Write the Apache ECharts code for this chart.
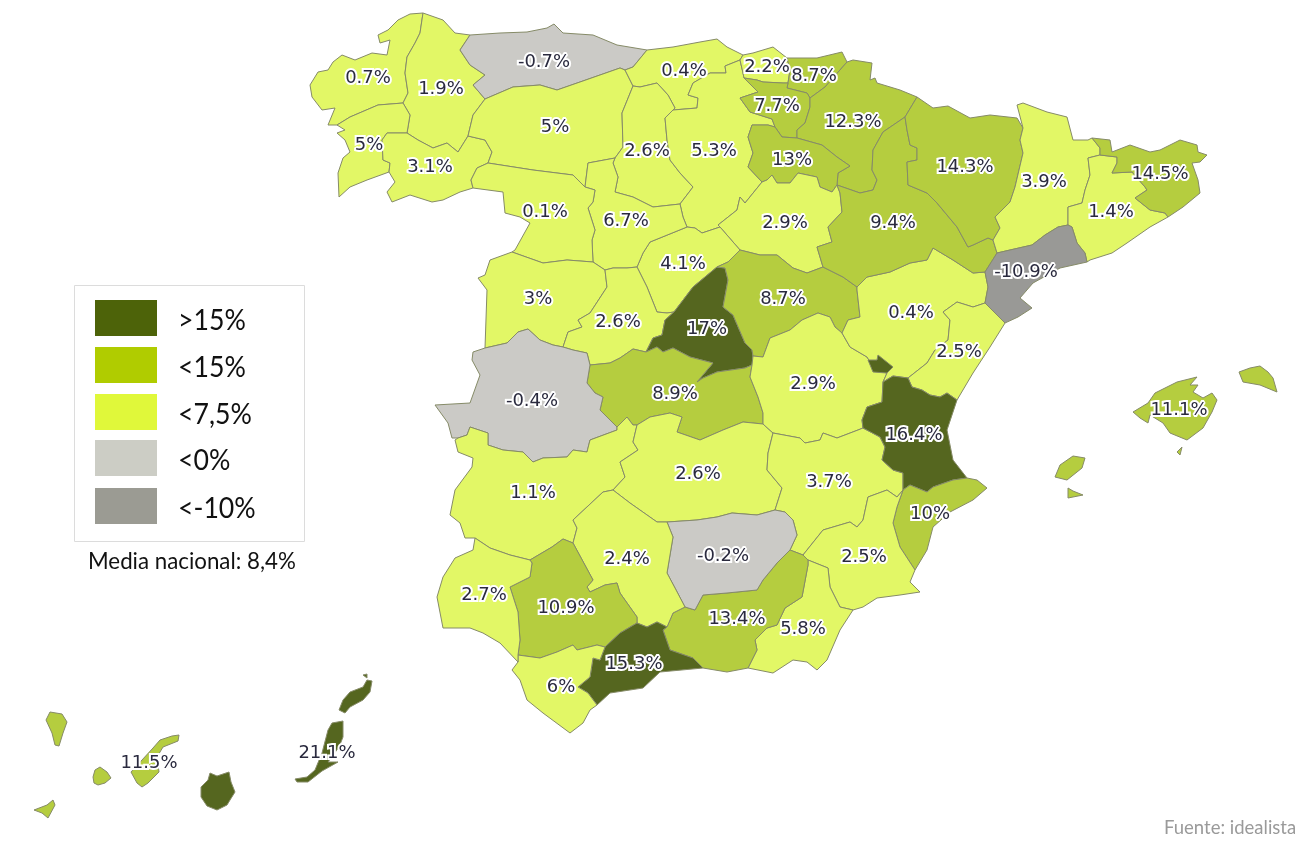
<!DOCTYPE html>
<html><head><meta charset="utf-8">
<style>html,body{margin:0;padding:0;background:#fff}#c{width:1305px;height:844px}</style>
<script src="https://cdn.jsdelivr.net/npm/echarts@6/dist/echarts.min.js"></script>
</head><body><div id="c"></div>
<script>
// --- data ---
const provinces = ["A Coruña","Lugo","Pontevedra","Ourense","Asturias","León","Cantabria","Palencia","Burgos","Bizkaia","Gipuzkoa","Álava","Navarra","La Rioja","Soria","Segovia","Valladolid","Zamora","Salamanca","Ávila","Guadalajara","Toledo","Madrid","Cáceres","Badajoz","Ciudad Real","Cuenca","Albacete","Teruel","Zaragoza","Huesca","Lleida","Barcelona","Girona","Tarragona","Castellón","Valencia","Alicante","Murcia","Almería","Granada","Jaén","Córdoba","Sevilla","Málaga","Cádiz","Huelva","Baleares","Las Palmas","Santa Cruz de Tenerife"];
const values = [0.7,1.9,5,3.1,-0.7,5,0.4,2.6,5.3,2.2,8.7,7.7,12.3,13,2.9,4.1,6.7,0.1,3,2.6,8.7,8.9,17,-0.4,1.1,2.6,2.9,3.7,0.4,9.4,14.3,3.9,1.4,14.5,-10.9,2.5,16.4,10,2.5,5.8,13.4,-0.2,2.4,10.9,15.3,6,2.7,11.1,21.1,11.5];
const legendLabels = [">15%","<15%","<7,5%","<0%","<-10%"];
const legendColors = ["#4d6309","#b0cc00","#e0f83a","#cccdc5","#9b9b93"];
const mapColors = ["#55661f","#b5cd3f","#e2f766","#cbcac6","#999996"];
const thresholds = [15,7.5,0,-10];
const note = "Media nacional: 8,4%";
const source = "Fuente: idealista";

// --- map outline: shared province borders ---
const ARCS = {
lco_sea:"423,13 410,14 398,20 388,30 378,35 380,43 390,40 387,55 372,53 355,60 342,55 333,62 328,70 318,72 310,85 312,97 322,110 335,108 328,125 337,125",
lco_pon:"337,125 350,117 378,105 403,103",
lco_lug:"423,13 420,33 415,43 407,57 405,73 408,93 403,103",
lug_pon:"403,103 410,115 407,133",
pon_our:"407,133 387,133 382,140 383,160 390,163 389,172",
pon_sea:"337,125 345,130 337,133 345,140 350,152 343,158 338,173 339,197 350,187 367,180 389,172",
our_sea:"389,172 395,182 387,192 392,202 410,195 432,202 443,200 460,192 473,188",
our_zam:"473,188 471,180 477,168 488,163",
our_leo:"488,163 492,152 485,140 468,136",
our_lug:"468,136 458,152 447,143 433,148 418,140 407,133",
lug_sea:"423,13 443,20 455,33 470,35",
lug_ast:"470,35 460,50 470,65 485,75 473,85 485,99",
lug_leo:"485,99 473,115 468,136",
ast_sea:"470,35 500,33 527,32 547,28 554,24 563,33 593,35 617,45 647,50",
ast_leo:"485,99 513,87 540,85 557,90 580,82 620,68 625,70",
ast_can:"625,70 633,67 647,50",
can_sea:"647,50 673,47 700,42 717,39 727,47 743,55",
can_leo:"625,70 633,86",
can_pal:"633,86 640,87 657,83 668,95 675,108 665,118",
can_bur:"665,118 673,110 697,108 698,98 688,95 693,83 710,73 726,73 725,66 740,60",
can_biz:"740,60 743,55",
biz_sea:"743,55 753,53 773,47 787,58",
biz_gip:"787,58 790,70 788,83",
biz_ala:"788,83 783,83 763,82 757,80 744,78",
biz_bur:"744,78 743,73 740,60",
gip_sea:"787,58 817,58 842,52 847,62",
gip_nav:"847,62 825,87 810,98",
gip_ala:"788,83 787,88 807,93 810,98",
ala_nav:"810,98 810,107 805,123 797,130 797,138",
ala_rio:"797,138 782,137 775,127",
ala_bur:"775,127 772,119 750,112 740,98 758,92 744,78",
bur_rio:"775,127 768,125 752,125 748,137 753,153 748,167 762,182",
bur_sor:"762,182 745,203 740,197 737,210 718,225 720,227",
bur_seg:"720,227 702,233 695,228 687,227",
bur_val:"687,227 683,217 680,204",
bur_pal:"680,204 693,187 680,173 670,160 667,140 665,118",
pal_leo:"633,86 622,113 623,147 615,158",
pal_val:"615,158 613,163 618,177 615,192 633,197 653,207 680,204",
leo_val:"615,158 588,163 585,187",
leo_zam:"488,163 533,170 573,175 585,187",
zam_val:"585,187 595,190 593,202 588,208 595,230 592,240 593,262",
zam_sea:"473,188 503,192 505,213 520,217 530,223 515,250 512,252",
zam_sal:"512,252 543,263 567,260 593,262",
val_sal:"593,262 605,270",
val_avi:"605,270 613,268 627,268 637,267",
val_seg:"637,267 643,253 650,242 687,227",
sal_avi:"605,270 607,287 590,313 578,320 582,327 568,332 563,347",
sal_sea:"512,252 490,260 485,275 478,278 487,290 485,348",
sal_cac:"485,348 507,343 518,332 528,329 540,340 553,345 563,347",
avi_cac:"563,347 573,350 587,353 590,365",
avi_tol:"590,365 610,363 620,358 633,349 646,352",
avi_mad:"646,352 653,338 662,335 665,320 674,312",
avi_seg:"637,267 647,287 657,312 667,313 674,312",
seg_mad:"674,312 693,287 717,267",
seg_gua:"717,267 728,262 740,250",
seg_sor:"740,250 720,227",
sor_gua:"740,250 760,255 777,255 793,268 807,273 823,267",
sor_zar:"823,267 817,247 832,242 828,227 842,212 840,193 837,185",
sor_rio:"837,185 832,192 820,187 817,177 798,173 790,183 777,183 772,175 767,180 762,182",
rio_nav:"797,138 822,145 837,157 850,166 838,173 837,185",
nav_zar:"837,185 860,193 873,190 877,180 872,170 873,150 883,132 905,117",
nav_hue:"905,117 917,97",
nav_sea:"917,97 900,90 877,83 875,78 870,80 872,63 853,60 847,62",
hue_sea:"917,97 933,108 948,106 970,118 990,115 1017,118 1023,128",
hue_lle:"1023,128 1020,140 1023,153 1015,187 1010,202 995,217 1000,228 993,240",
hue_zar:"905,117 907,130 910,145 917,148 917,160 907,162 908,185 927,193 937,203 957,227 968,247 973,245 988,238 993,240",
zar_lle:"993,240 997,253",
zar_tar:"997,253 985,272",
zar_ter:"985,272 973,273 953,260 933,248 927,260 910,263 890,272 867,277 857,287",
zar_gua:"823,267 843,277 857,287",
gua_ter:"857,287 857,290 860,317 848,320 842,333",
gua_cue:"842,333 835,327 830,317 818,313 802,320 790,330 770,338 763,357 753,356",
gua_mad:"717,267 725,268 728,280 723,307 733,315 745,343 752,350 753,356",
mad_cue:"753,356 752,365",
mad_tol:"646,352 657,347 663,352 673,348 690,357 713,363 697,382 703,378 717,372 745,368 752,365",
tol_cue:"752,365 750,377 758,397 763,413 763,424",
tol_cre:"763,424 743,422 723,430 700,440 677,432 682,417 670,413 650,417 637,425",
tol_bad:"637,425 633,425 627,417 617,427",
tol_cac:"590,365 587,383 595,393 603,397 600,410 617,427",
cac_bad:"617,427 617,430 590,440 587,452 573,450 567,457 543,458 533,462 523,452 503,450 488,445 488,433 470,427 467,435 458,438",
cac_sea:"458,438 452,438 448,423 435,405 470,403 480,375 472,360 473,352 485,348",
bad_sea:"458,438 455,440 458,452 473,458 472,467 455,490 450,515 460,523 465,538 475,538",
bad_cre:"637,425 633,442 638,450 620,462 625,477 613,490",
bad_hlv:"475,538 490,548 510,555 530,560",
bad_sev:"530,560 552,547 563,539 573,543",
bad_cdb:"573,543 577,528 573,520 603,492 613,490",
cdb_cre:"613,490 630,503 657,522 667,522",
cdb_jae:"667,522 673,537 667,573 675,588 685,607",
cdb_gra:"685,607 673,613 667,627",
cdb_mal:"667,627 657,622 647,627 637,623",
cdb_sev:"637,623 637,617 620,593 617,583 605,585 590,592 587,587 593,580 573,543",
sev_mal:"637,623 620,633 605,647",
sev_cad:"605,647 597,645 577,650 573,645 557,652 540,658 518,655",
sev_hlv:"518,655 520,640 518,612 510,587 530,577 532,563 530,560",
hlv_sea:"475,538 473,550 455,558 443,577 437,597 443,628 470,628 483,633 500,643 518,662",
hlv_cad:"518,655 518,662",
cad_sea:"518,662 512,670 520,680 527,700 543,713 570,733 583,723 590,710 597,705",
cad_mal:"597,705 588,693 578,687 590,677 593,658 600,660 605,647",
mal_sea:"597,705 610,693 643,688 660,672 703,668",
mal_gra:"703,668 693,658 670,650 663,630 667,627",
gra_jae:"685,607 695,610 703,595 727,593 757,590 763,580 777,563 790,550",
gra_alb:"790,550 803,555",
gra_mur:"803,555 808,560",
gra_alm:"808,560 808,565 802,597 785,608 777,625 767,628 755,640 757,650 748,668",
gra_sea:"703,668 727,672 748,668",
alm_sea:"748,668 773,673 793,660 807,662 817,670 827,660 840,630 853,610",
alm_mur:"853,610 840,607 830,587 828,568 808,560",
mur_alb:"803,555 823,530 850,522 857,527 863,520 868,497 887,490 897,497 903,490",
mur_ali:"903,490 897,507 893,523 900,547 915,570",
mur_sea:"915,570 910,582 920,592 900,595 877,598 863,607 853,610",
ali_sea:"915,570 927,550 933,527 950,512 973,500 987,488 977,480 967,478",
ali_vlc:"967,478 953,480 933,487 927,492 910,485 903,490",
vlc_sea:"967,478 953,460 947,430 957,400",
vlc_cas:"957,400 947,393 940,397 930,395 922,390 912,387 908,378",
vlc_ter:"908,378 893,376 883,382",
vlc_cue:"883,382 882,402 867,407 862,420 863,428",
vlc_alb:"863,428 880,437 885,447 882,460 893,470 903,473 903,490",
ter_cue:"842,333 850,347 867,357 875,370 887,373 883,382",
ter_cas:"908,378 927,363 935,350 948,340 950,320 943,312 957,302 973,307 985,303",
ter_tar:"985,303 988,287 985,272",
cas_tar:"985,303 1005,323",
cas_sea:"1005,323 990,347 973,373 957,400",
tar_sea:"1005,323 1018,317 1032,308 1020,298 1033,283 1060,268 1087,262",
tar_bar:"1087,262 1085,253 1077,243 1072,227 1068,225",
tar_lle:"1068,225 1058,227 1045,235 1032,245 1010,250 997,253",
lle_bar:"1068,225 1068,207 1082,203 1085,190 1090,175 1088,158 1100,155",
lle_gir:"1100,155 1100,148 1092,138",
lle_sea:"1023,128 1017,105 1023,103 1047,112 1067,117 1073,140 1088,140 1092,138",
bar_gir:"1100,155 1117,157 1117,163 1112,173 1132,172 1145,187 1147,190 1135,198 1150,210 1165,213 1168,217",
bar_sea:"1168,217 1150,227 1127,243 1112,253 1090,260 1087,262",
gir_sea:"1092,138 1110,140 1112,152 1130,145 1150,152 1160,150 1180,140 1197,145 1198,152 1207,155 1200,162 1192,163 1198,180 1200,193 1183,207 1168,217",
cre_cue:"763,424 773,433",
alb_cue:"773,433 800,438 805,443 820,440 823,433 837,438 858,430 863,428",
cre_alb:"773,433 768,453 767,470 782,488 775,510",
cre_jae:"667,522 697,520 717,517 732,513 757,515 775,510",
alb_jae:"775,510 785,512 793,520 797,535 790,550",
ademuz:"868,360 877,360 878,355 893,367 887,373 873,372 868,360",
mallorca:"1133,412 1148,403 1155,393 1177,382 1197,377 1190,385 1198,385 1193,392 1203,398 1212,393 1217,400 1212,412 1203,428 1187,440 1170,433 1163,423 1150,415 1148,423 1140,418 1133,412",
menorca:"1239,372 1250,368 1260,366 1268,372 1273,378 1277,392 1260,385 1243,382 1239,372",
ibiza:"1055,477 1060,465 1073,456 1085,458 1082,468 1067,480 1055,477",
formentera:"1068,488 1073,491 1083,495 1068,498 1068,488",
cabrera:"1177,452 1182,447 1180,455 1177,452",
lapalma:"46,720 50,712 62,714 67,722 63,733 59,746 55,745 52,733 46,720",
gomera:"93,777 95,770 100,767 107,772 111,778 105,783 98,785 94,783 93,777",
hierro:"34,810 47,805 53,800 55,805 48,818 42,813 34,810",
tenerife:"179,735 178,741 163,747 157,757 159,772 148,783 142,787 137,783 131,772 142,760 153,748 160,740 172,736 179,735",
grancanaria:"210,773 217,776 229,772 231,782 235,792 230,800 227,805 217,810 207,806 201,797 201,787 208,780 210,773",
fuerteventura:"295,779 307,777 315,770 322,753 328,730 332,723 343,721 343,737 339,747 328,762 338,762 322,771 308,782 297,782 295,779",
lanzarote:"339,710 343,700 350,692 363,687 367,680 372,681 370,692 363,700 350,707 345,713 339,710",
graciosa:"363,675 367,674 367,678 363,675"
};
const RINGS = {
"A Coruña":[["lco_lug","lco_pon","lco_sea"]],
"Lugo":[["lug_sea","lug_ast","lug_leo","our_lug","lug_pon","lco_lug"]],
"Pontevedra":[["lco_pon","lug_pon","pon_our","pon_sea"]],
"Ourense":[["pon_our","our_lug","our_leo","our_zam","our_sea"]],
"Asturias":[["ast_sea","ast_can","ast_leo","lug_ast"]],
"León":[["ast_leo","can_leo","pal_leo","leo_val","leo_zam","our_leo","lug_leo"]],
"Cantabria":[["can_sea","can_biz","can_bur","can_pal","can_leo","ast_can"]],
"Palencia":[["can_pal","bur_pal","pal_val","pal_leo"]],
"Burgos":[["can_bur","biz_bur","ala_bur","bur_rio","bur_sor","bur_seg","bur_val","bur_pal"]],
"Bizkaia":[["can_biz","biz_sea","biz_gip","biz_ala","biz_bur"]],
"Gipuzkoa":[["biz_gip","gip_sea","gip_nav","gip_ala"]],
"Álava":[["biz_ala","ala_bur","ala_rio","ala_nav","gip_ala"]],
"Navarra":[["nav_sea","gip_nav","ala_nav","rio_nav","nav_zar","nav_hue"]],
"La Rioja":[["bur_rio","sor_rio","rio_nav","ala_rio"]],
"Soria":[["bur_sor","seg_sor","sor_gua","sor_zar","sor_rio"]],
"Segovia":[["val_seg","bur_seg","seg_sor","seg_gua","seg_mad","avi_seg"]],
"Valladolid":[["leo_val","zam_val","val_sal","val_avi","val_seg","bur_val","pal_val"]],
"Zamora":[["our_zam","leo_zam","zam_val","zam_sal","zam_sea"]],
"Salamanca":[["zam_sal","val_sal","sal_avi","sal_cac","sal_sea"]],
"Ávila":[["val_avi","avi_seg","avi_mad","avi_tol","avi_cac","sal_avi"]],
"Madrid":[["seg_mad","gua_mad","mad_cue","mad_tol","avi_mad"]],
"Guadalajara":[["seg_gua","sor_gua","zar_gua","gua_ter","gua_cue","gua_mad"]],
"Toledo":[["avi_tol","mad_tol","tol_cue","tol_cre","tol_bad","tol_cac"]],
"Cáceres":[["sal_cac","avi_cac","tol_cac","cac_bad","cac_sea"]],
"Badajoz":[["cac_bad","bad_sea","bad_hlv","bad_sev","bad_cdb","bad_cre","tol_bad"]],
"Ciudad Real":[["tol_cre","bad_cre","cdb_cre","cre_jae","cre_alb","cre_cue"]],
"Cuenca":[["gua_cue","mad_cue","tol_cue","cre_cue","alb_cue","vlc_cue","ter_cue"]],
"Albacete":[["alb_cue","vlc_alb","mur_alb","gra_alb","alb_jae","cre_alb"]],
"Teruel":[["zar_ter","ter_tar","ter_cas","vlc_ter","ter_cue","gua_ter"]],
"Zaragoza":[["sor_zar","nav_zar","hue_zar","zar_lle","zar_tar","zar_ter","zar_gua"]],
"Huesca":[["nav_hue","hue_sea","hue_lle","hue_zar"]],
"Lleida":[["hue_lle","zar_lle","tar_lle","lle_bar","lle_gir","lle_sea"]],
"Barcelona":[["lle_bar","bar_gir","bar_sea","tar_bar"]],
"Girona":[["lle_gir","gir_sea","bar_gir"]],
"Tarragona":[["zar_tar","ter_tar","cas_tar","tar_sea","tar_bar","tar_lle"]],
"Castellón":[["ter_cas","cas_tar","cas_sea","vlc_cas"]],
"Valencia":[["vlc_ter","vlc_cas","vlc_sea","ali_vlc","vlc_alb","vlc_cue"],["ademuz"]],
"Alicante":[["mur_ali","ali_sea","ali_vlc"]],
"Murcia":[["mur_alb","mur_ali","mur_sea","alm_mur","gra_mur"]],
"Almería":[["gra_alm","alm_sea","alm_mur"]],
"Granada":[["gra_jae","gra_alb","gra_mur","gra_alm","gra_sea","mal_gra","cdb_gra"]],
"Jaén":[["cre_jae","alb_jae","gra_jae","cdb_jae"]],
"Córdoba":[["bad_cdb","cdb_cre","cdb_jae","cdb_gra","cdb_mal","cdb_sev"]],
"Sevilla":[["bad_sev","cdb_sev","sev_mal","sev_cad","sev_hlv"]],
"Málaga":[["cdb_mal","sev_mal","cad_mal","mal_sea","mal_gra"]],
"Cádiz":[["sev_cad","hlv_cad","cad_sea","cad_mal"]],
"Huelva":[["bad_hlv","sev_hlv","hlv_cad","hlv_sea"]],
"Baleares":[["mallorca"],["menorca"],["ibiza"],["formentera"],["cabrera"]],
"Las Palmas":[["grancanaria"],["fuerteventura"],["lanzarote"],["graciosa"]],
"Santa Cruz de Tenerife":[["lapalma"],["gomera"],["hierro"],["tenerife"]]
};
const labelAnchors = {"A Coruña":[368,78],"Lugo":[441,89],"Pontevedra":[369,145],"Ourense":[430,167],"Asturias":[544,62],"León":[555,127],"Cantabria":[684,71],"Palencia":[647,151],"Burgos":[714,151],"Bizkaia":[767,67],"Gipuzkoa":[814,76],"Álava":[777,106],"Navarra":[853,122],"La Rioja":[792,160],"Soria":[785,223],"Segovia":[683,264],"Valladolid":[626,221],"Zamora":[545,212],"Salamanca":[538,299],"Ávila":[618,322],"Guadalajara":[783,299],"Toledo":[675,394],"Madrid":[707,329],"Cáceres":[532,401],"Badajoz":[533,493],"Ciudad Real":[698,474],"Cuenca":[813,384],"Albacete":[829,482],"Teruel":[911,313],"Zaragoza":[893,223],"Huesca":[965,167],"Lleida":[1044,182],"Barcelona":[1111,212],"Girona":[1160,174],"Tarragona":[1026,272],"Castellón":[959,352],"Valencia":[914,435],"Alicante":[930,514],"Murcia":[864,557],"Almería":[803,629],"Granada":[737,619],"Jaén":[723,556],"Córdoba":[627,559],"Sevilla":[566,608],"Málaga":[634,664],"Cádiz":[561,687],"Huelva":[484,595],"Baleares":[1179,410],"Las Palmas":[327,753],"Santa Cruz de Tenerife":[149,763]};

const parseArc = s => s.split(" ").map(p => p.split(",").map(Number));
const dist = (a,b) => Math.hypot(a[0]-b[0],a[1]-b[1]);
function buildRing(names){
  const arcs = names.map(n => parseArc(ARCS[n]));
  let pts = [];
  arcs.forEach((a,i)=>{
    if(i===0){
      if(arcs.length>1){
        const nx = arcs[1], s=a[0], e=a[a.length-1];
        const ds=Math.min(dist(s,nx[0]),dist(s,nx[nx.length-1])), de=Math.min(dist(e,nx[0]),dist(e,nx[nx.length-1]));
        if(ds<de) a=a.slice().reverse();
      }
      pts = a.slice();
    } else {
      const l = pts[pts.length-1];
      if(dist(l,a[a.length-1])<dist(l,a[0])) a=a.slice().reverse();
      pts = pts.concat(a.slice(1));
    }
  });
  if(dist(pts[0],pts[pts.length-1])>0) pts.push(pts[0]);
  return pts.map(p=>[p[0],-p[1]]);
}
const features = Object.keys(RINGS).map(name=>({
  type:"Feature",
  properties:{name, cp:[labelAnchors[name][0],-labelAnchors[name][1]]},
  geometry:{type:"MultiPolygon",coordinates:RINGS[name].map(r=>[buildRing(r)])}
}));
echarts.registerMap("es",{type:"FeatureCollection",features});

const chart = echarts.init(document.getElementById("c"),null,{renderer:"canvas"});
const legendFont = "Lato, 'Open Sans', sans-serif";
const swatchTops = [300,347,394,440,488];
const legendGfx = [{type:"rect",shape:{x:74.5,y:285.5,width:230,height:256},style:{fill:"#fff",stroke:"#dcdcdc",lineWidth:1},silent:true}];
legendLabels.forEach((t,i)=>{
  legendGfx.push({type:"rect",shape:{x:95,y:swatchTops[i],width:62,height:36},style:{fill:legendColors[i]},silent:true});
  legendGfx.push({type:"text",x:178,y:swatchTops[i]+21,scaleX:0.92,style:{text:t,font:"29px "+legendFont,fill:"#111",textVerticalAlign:"middle",textBaseline:"middle"},silent:true});
});
legendGfx.push({type:"text",x:88,y:562,style:{text:note,font:"22.3px "+legendFont,fill:"#111",textBaseline:"middle",textVerticalAlign:"middle"},silent:true});
legendGfx.push({type:"text",x:1164,y:828,style:{text:source,font:"18.5px "+legendFont,fill:"#9a9a9a",textBaseline:"middle",textVerticalAlign:"middle"},silent:true});

chart.setOption({
  animation:false,
  backgroundColor:"#fff",
  visualMap:{show:false,type:"piecewise",seriesIndex:0,pieces:[
    {min:thresholds[0],color:mapColors[0]},
    {min:thresholds[1],lt:thresholds[0],color:mapColors[1]},
    {min:thresholds[2],lt:thresholds[1],color:mapColors[2]},
    {min:thresholds[3],lt:thresholds[2],color:mapColors[3]},
    {lt:thresholds[3],color:mapColors[4]}
  ]},
  series:[{
    type:"map",map:"es",roam:false,silent:true,
    left:0,top:0,width:1305,height:844,aspectScale:1,
    boundingCoords:[[0,0],[1305,-844]],
    itemStyle:{borderColor:"#868b68",borderWidth:1},
    label:{show:true,formatter:p=>p.value+"%",fontFamily:"DejaVu Sans",fontSize:18,color:"#2a2a3e",textBorderColor:"#fff",textBorderWidth:4},
    data:provinces.map((n,i)=>({name:n,value:values[i]}))
  }],
  graphic:legendGfx
});
</script></body></html>
